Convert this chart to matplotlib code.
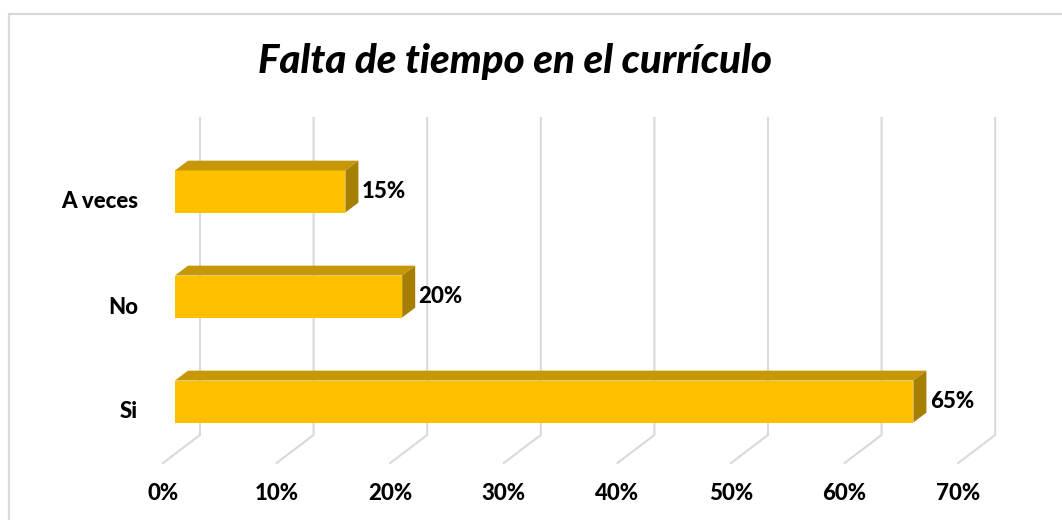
import matplotlib
matplotlib.use("Agg")
import matplotlib.pyplot as plt
from matplotlib.patches import Polygon, Rectangle

plt.rcParams['font.family'] = ['Lato', 'DejaVu Sans']

# ---- data ----
categories = ["Si", "No", "A veces"]
values = [65, 20, 15]
value_labels = ["65%", "20%", "15%"]
tick_values = [0, 10, 20, 30, 40, 50, 60, 70]
tick_labels = ["0%", "10%", "20%", "30%", "40%", "50%", "60%", "70%"]
title = "Falta de tiempo en el currículo"

# ---- colours ----
front_c = "#FFC000"
top_c = "#C69706"
side_c = "#A67E00"
grid_c = "#D9D9D9"

W, H = 1062, 520
fig = plt.figure(figsize=(W / 100, H / 100), dpi=100)
ax = fig.add_axes([0, 0, 1, 1])
ax.set_axis_off()

# data mapping: 10% = 113.6 px, category step = 105 px
px_per_unit_x = 11.36
px_per_unit_y = 105.0
x0_px, y0_px = 163.0, 401.5
ax.set_xlim((0 - x0_px) / px_per_unit_x, (W - x0_px) / px_per_unit_x)
ax.set_ylim((y0_px - H) / px_per_unit_y, (y0_px - 0) / px_per_unit_y)

# depth geometry (in data units)
depth_dx = 37 / px_per_unit_x
depth_dy = 28 / px_per_unit_y
floor_front = (y0_px - 463) / px_per_unit_y
wall_top = (y0_px - 118) / px_per_unit_y
bar_f0 = 12 / 37   # bar front plane depth fraction
bar_f1 = 25 / 37   # bar back plane depth fraction
bar_h = 42 / px_per_unit_y

# chart border
fig.add_artist(Rectangle((9 / W, -0.1), 1.2, 1 - 14 / H + 0.1, transform=fig.transFigure,
                         fill=False, edgecolor="#D9D9D9", lw=1.6))

# gridlines: back wall verticals + floor diagonals
for v in tick_values:
    ax.plot([v + depth_dx, v + depth_dx, v], [wall_top, floor_front + depth_dy, floor_front],
            color=grid_c, lw=1.5, solid_joinstyle='miter', zorder=1)

lab_kw = dict(fontsize=16, fontweight='black', color='black')

# bars
for i, (cat, v, lab) in enumerate(zip(categories, values, value_labels)):
    fx = bar_f0 * depth_dx
    bx = bar_f1 * depth_dx
    yc = i
    ylo, yhi = yc - bar_h / 2, yc + bar_h / 2
    ddx = bx - fx
    ddy = (bar_f1 - bar_f0) * depth_dy
    # front face
    ax.add_patch(Polygon([(fx, ylo), (fx + v, ylo), (fx + v, yhi), (fx, yhi)],
                         closed=True, facecolor=front_c, edgecolor='none', zorder=3))
    # top face
    ax.add_patch(Polygon([(fx, yhi), (fx + v, yhi), (fx + v + ddx, yhi + ddy), (fx + ddx, yhi + ddy)],
                         closed=True, facecolor=top_c, edgecolor='none', zorder=3))
    # side face
    ax.add_patch(Polygon([(fx + v, ylo), (fx + v + ddx, ylo + ddy), (fx + v + ddx, yhi + ddy), (fx + v, yhi)],
                         closed=True, facecolor=side_c, edgecolor='none', zorder=3))
    # value label
    ax.text(fx + v + ddx + 0.3, yc + 0.0, lab, ha='left', va='center', zorder=4, **lab_kw)
    # category label
    ax.text(-2.2, yc - 0.1, cat, ha='right', va='center', zorder=4, **lab_kw)

# x tick labels
for v, t in zip(tick_values, tick_labels):
    ax.text(v, (y0_px - 493) / px_per_unit_y, t, ha='center', va='center', **lab_kw)

fig.text(515 / W, 1 - 61 / H, title, ha='center', va='center', fontsize=29,
         fontweight='black', fontstyle='italic', color='black')

fig.savefig("out.png", dpi=100, facecolor='white')
